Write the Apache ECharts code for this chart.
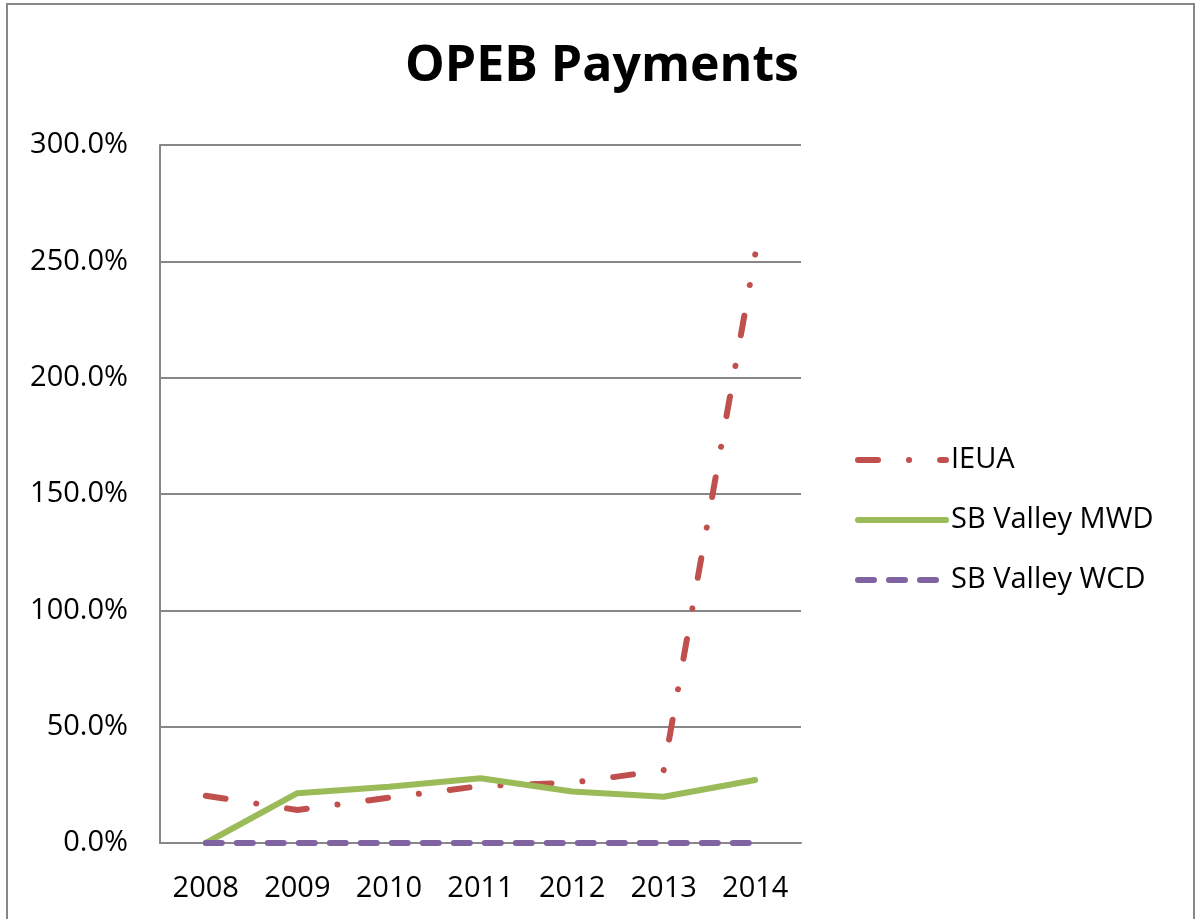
<!DOCTYPE html>
<html>
<head>
<meta charset="utf-8">
<title>OPEB Payments</title>
<script src="https://cdn.jsdelivr.net/npm/echarts@6/dist/echarts.min.js"></script>
<style>
	html, body { margin: 0; padding: 0; background: #fff; }
	#main { width: 1195px; height: 919px; }
</style>
</head>
<body>
<div id="main"></div>
<script>
// 数据
var years = ['2008', '2009', '2010', '2011', '2012', '2013', '2014'];
var ieua = [20.3, 14.2, 19.5, 24.5, 25.9, 31.3, 253.0];
var sbMwd = [0.0, 21.4, 24.2, 27.8, 22.1, 19.9, 27.1];
var sbWcd = [0, 0, 0, 0, 0, 0, 0];

var fontName = '"Open Sans", sans-serif';
var gridColor = '#878787';

var myChart = echarts.init(document.getElementById('main'));
var option = {
	backgroundColor: '#fff',
	animation: false,
	title: {
		text: 'OPEB Payments',
		left: 597,
		top: 37,
		textAlign: 'center',
		textStyle: {
			fontFamily: fontName,
			fontSize: 50,
			fontWeight: 'bold',
			color: '#000'
		}
	},
	// 外框
	graphic: [{
		type: 'rect',
		shape: { x: 7, y: 4, width: 1187, height: 1000 },
		style: { fill: 'none', stroke: gridColor, lineWidth: 2 },
		silent: true
	}],
	legend: {
		orient: 'vertical',
		left: 855,
		top: 445,
		padding: 0,
		itemWidth: 88,
		itemHeight: 20,
		itemGap: 30,
		itemStyle: { opacity: 0 },
		lineStyle: { width: 6, cap: 'round' },
		textStyle: {
			fontFamily: fontName,
			fontSize: 29,
			color: '#000',
			lineHeight: 30
		},
		data: ['IEUA', 'SB Valley MWD', 'SB Valley WCD']
	},
	grid: {
		left: 160,
		right: 394,
		top: 145,
		bottom: 76,
		containLabel: false
	},
	xAxis: {
		type: 'category',
		boundaryGap: true,
		data: years,
		axisLine: { lineStyle: { color: gridColor, width: 2 } },
		axisTick: { show: false },
		axisLabel: {
			margin: 31,
			fontFamily: fontName,
			fontSize: 29,
			color: '#000'
		}
	},
	yAxis: {
		type: 'value',
		min: 0,
		max: 300,
		interval: 50,
		axisLine: { show: true, lineStyle: { color: gridColor, width: 2 } },
		axisTick: { show: false },
		splitLine: { lineStyle: { color: gridColor, width: 2 } },
		axisLabel: {
			margin: 32,
			fontFamily: fontName,
			fontSize: 29,
			color: '#000',
			formatter: function (v) { return v.toFixed(1) + '%'; }
		}
	},
	series: [
		{
			name: 'IEUA',
			type: 'line',
			data: ieua,
			symbol: 'none',
			color: '#C0504D',
			lineStyle: { color: '#C0504D', width: 6, type: [20, 31, 0.1, 31], cap: 'round' }
		},
		{
			name: 'SB Valley MWD',
			type: 'line',
			data: sbMwd,
			symbol: 'none',
			color: '#9BBB59',
			lineStyle: { color: '#9BBB59', width: 6, cap: 'round' }
		},
		{
			name: 'SB Valley WCD',
			type: 'line',
			data: sbWcd,
			symbol: 'none',
			color: '#8064A2',
			lineStyle: { color: '#8064A2', width: 6, type: [16, 15], cap: 'round' }
		}
	]
};
myChart.setOption(option);
</script>
</body>
</html>
